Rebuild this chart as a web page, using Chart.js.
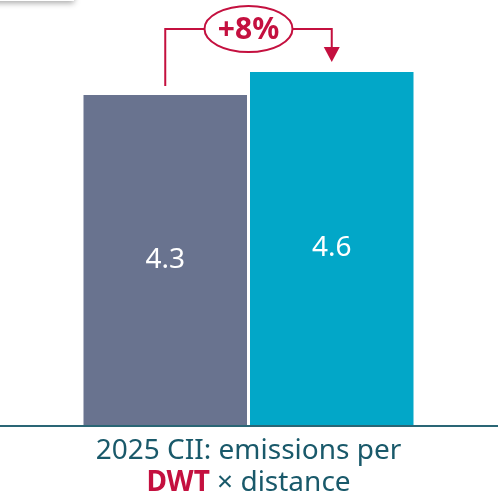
<!DOCTYPE html>
<html>
<head>
<meta charset="utf-8">
<script src="https://cdn.jsdelivr.net/npm/chart.js@4"></script>
<style>
  html, body { margin: 0; padding: 0; background: #fff; overflow: hidden; }
  #wrap { position: relative; width: 501px; height: 504px; }
  #tab {
    position: absolute; left: -10px; top: -40px; width: 84px; height: 41px;
    background: #fff; box-shadow: 0 2px 6px rgba(0, 0, 0, 0.35);
  }
</style>
</head>
<body>
<div id="wrap">
  <canvas id="ciiChart" width="501" height="504"></canvas>
  <div id="tab"></div>
</div>
<script>
// Data
const categories = ['Before', 'After'];
const values = [4.3, 4.6];
const barColors = ['#69738f', '#02a7c8'];
const changeLabel = '+8%';
const captionLine1 = '2025 CII: emissions per';
const captionBold = 'DWT';
const captionRest = ' × distance';

const ACCENT = '#c4103f';
const TEAL_TEXT = '#19596a';
const FONT = '"Noto Sans", "Open Sans", sans-serif';

// Value labels inside the bars
const valueLabels = {
  id: 'valueLabels',
  afterDatasetsDraw(chart) {
    const { ctx } = chart;
    const meta = chart.getDatasetMeta(0);
    ctx.save();
    ctx.fillStyle = '#ffffff';
    ctx.font = '28px ' + FONT;
    ctx.textAlign = 'center';
    ctx.textBaseline = 'middle';
    meta.data.forEach((bar, i) => {
      ctx.fillText(values[i].toFixed(1), bar.x, (bar.y + bar.base) / 2);
    });
    ctx.restore();
  }
};

// Bracket arrow with the percentage bubble
const changeArrow = {
  id: 'changeArrow',
  afterDatasetsDraw(chart) {
    const { ctx } = chart;
    const bars = chart.getDatasetMeta(0).data;
    const x1 = bars[0].x, x2 = bars[1].x;
    const lineY = 29;
    const midX = (x1 + x2) / 2;
    const rx = 44, ry = 23;

    ctx.save();
    ctx.strokeStyle = ACCENT;
    ctx.fillStyle = ACCENT;
    ctx.lineWidth = 2;

    ctx.beginPath();
    ctx.moveTo(x1, bars[0].y - 9);
    ctx.lineTo(x1, lineY);
    ctx.lineTo(midX - rx, lineY);
    ctx.moveTo(midX + rx, lineY);
    ctx.lineTo(x2, lineY);
    ctx.lineTo(x2, bars[1].y - 24);
    ctx.stroke();

    // arrow head
    const tipY = bars[1].y - 10;
    ctx.beginPath();
    ctx.moveTo(x2 - 8, tipY - 15);
    ctx.lineTo(x2 + 8, tipY - 15);
    ctx.lineTo(x2, tipY);
    ctx.closePath();
    ctx.fill();

    ctx.beginPath();
    ctx.ellipse(midX, lineY, rx, ry, 0, 0, Math.PI * 2);
    ctx.fillStyle = '#ffffff';
    ctx.fill();
    ctx.stroke();

    ctx.fillStyle = ACCENT;
    ctx.font = 'bold 30px ' + FONT;
    ctx.textAlign = 'center';
    ctx.textBaseline = 'middle';
    ctx.fillText(changeLabel, midX, lineY + 1);
    ctx.restore();
  }
};

// Baseline across the full width and the two-line caption
const baseCaption = {
  id: 'baseCaption',
  afterDraw(chart) {
    const { ctx } = chart;
    const bars = chart.getDatasetMeta(0).data;
    const cx = (bars[0].x + bars[1].x) / 2;
    const baseY = chart.scales.y.getPixelForValue(0);
    const size = '28px ';

    ctx.save();
    ctx.strokeStyle = '#2a6675';
    ctx.lineWidth = 2;
    ctx.beginPath();
    ctx.moveTo(0, baseY + 1);
    ctx.lineTo(chart.width - 3, baseY + 1);
    ctx.stroke();

    ctx.textBaseline = 'middle';
    ctx.font = size + FONT;
    ctx.fillStyle = TEAL_TEXT;
    ctx.textAlign = 'center';
    ctx.fillText(captionLine1, cx, baseY + 26);

    ctx.font = 'bold ' + size + FONT;
    const wBold = ctx.measureText(captionBold).width;
    ctx.font = size + FONT;
    const wRest = ctx.measureText(captionRest).width;
    const startX = cx - (wBold + wRest) / 2;
    ctx.textAlign = 'left';
    ctx.font = 'bold ' + size + FONT;
    ctx.fillStyle = ACCENT;
    ctx.fillText(captionBold, startX, baseY + 58);
    ctx.font = size + FONT;
    ctx.fillStyle = TEAL_TEXT;
    ctx.fillText(captionRest, startX + wBold, baseY + 58);
    ctx.restore();
  }
};

new Chart(document.getElementById('ciiChart'), {
  type: 'bar',
  data: {
    labels: categories,
    datasets: [{
      data: values,
      backgroundColor: barColors,
      borderWidth: 0,
      categoryPercentage: 1,
      barPercentage: 0.982
    }]
  },
  options: {
    responsive: false,
    animation: false,
    layout: { padding: { left: 82, right: 86, top: 3, bottom: 79 } },
    plugins: { legend: { display: false }, tooltip: { enabled: false } },
    scales: {
      x: { display: false },
      y: { display: false, min: 0, max: 5.5 }
    }
  },
  plugins: [valueLabels, changeArrow, baseCaption]
});
</script>
</body>
</html>
